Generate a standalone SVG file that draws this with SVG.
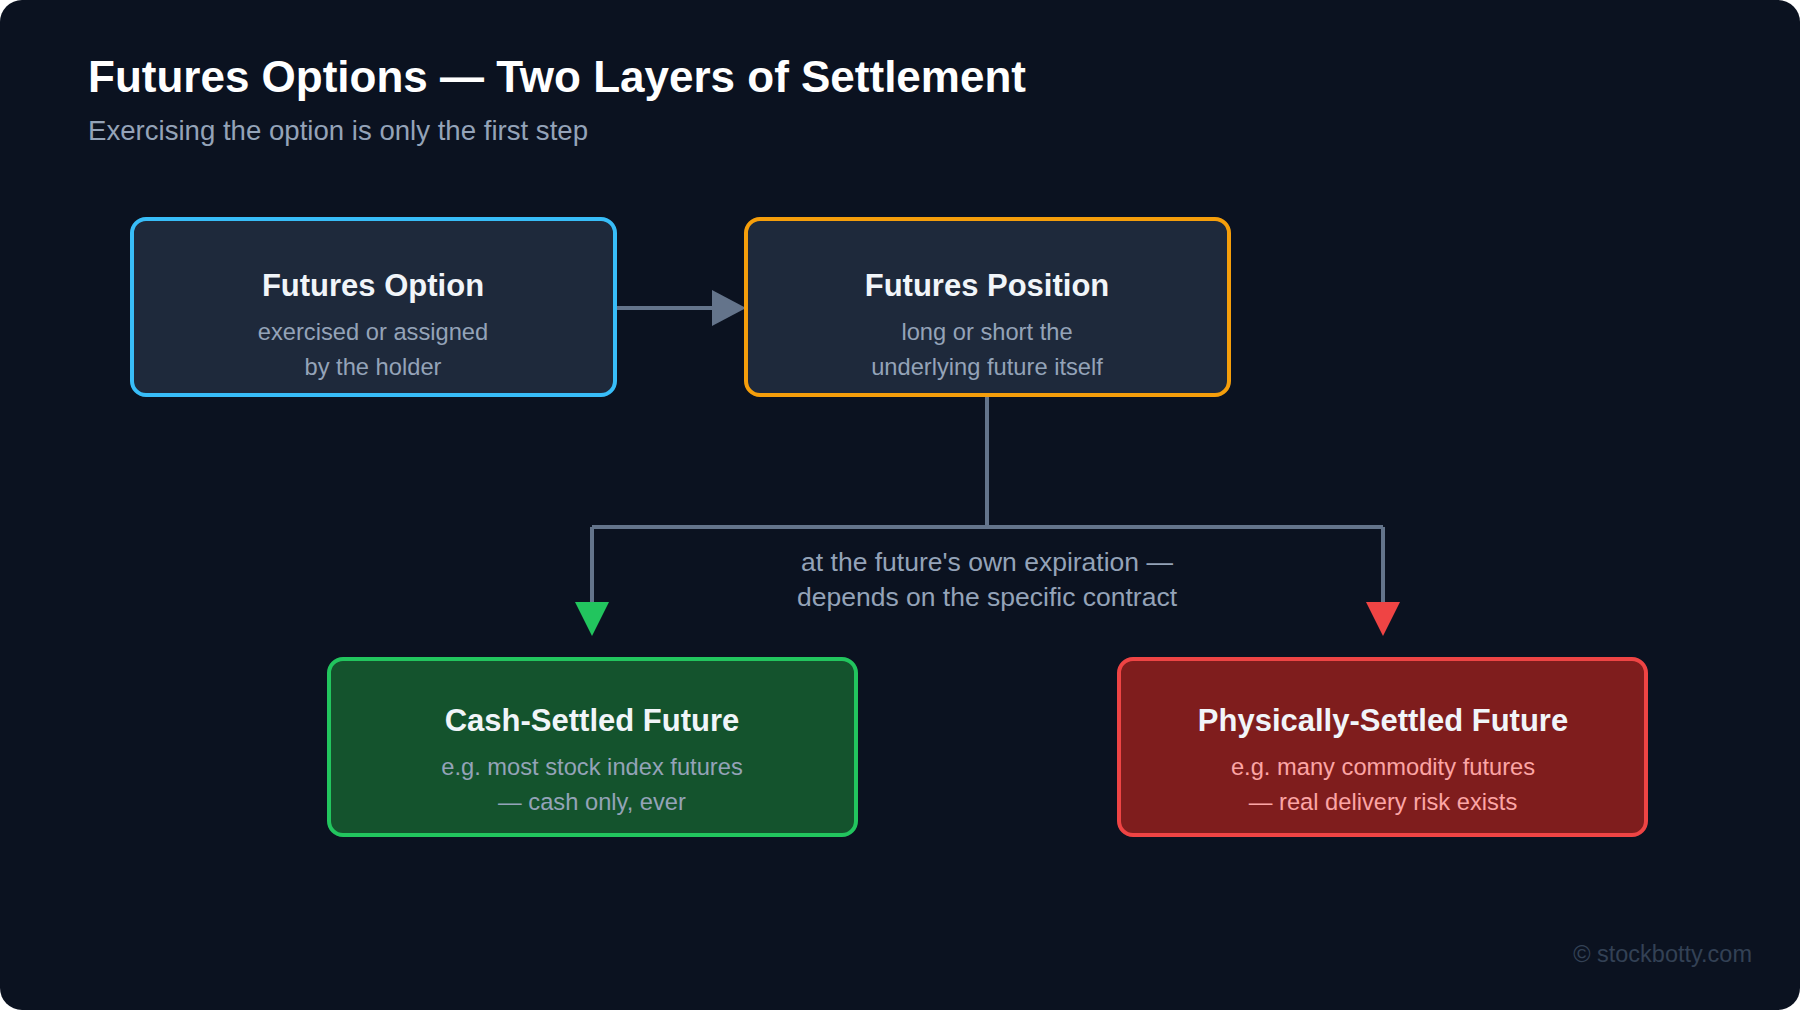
<svg xmlns="http://www.w3.org/2000/svg" width="1800" height="1010" viewBox="0 0 1800 1010">
<style>
text{font-family:"Liberation Sans",Arial,sans-serif}
.t{font-size:31px;font-weight:bold;fill:#f1f5f9;text-anchor:middle}
.s{font-size:23.7px;fill:#94a3b8;text-anchor:middle}
.l{font-size:26.5px;fill:#94a3b8;text-anchor:middle}
.box{stroke-width:4}
.c{stroke:#64748b;stroke-width:4;fill:none}
</style>
<rect width="1800" height="1010" rx="22" fill="#0b1220"/>
<text x="88" y="92" font-size="44" font-weight="bold" fill="#ffffff">Futures Options — Two Layers of Settlement</text>
<text x="88" y="140" font-size="27.6" fill="#94a3b8">Exercising the option is only the first step</text>
<g id="connectors">
<line class="c" x1="615" y1="308" x2="712" y2="308"/>
<path d="M712,290L746,308L712,326z" fill="#64748b"/>
<path class="c" d="M987,395V527M592,527H1383M592,527V604M1383,527V604"/>
<path d="M575,602L609,602L592,636z" fill="#22c55e"/>
<path d="M1366,602L1400,602L1383,636z" fill="#ef4444"/>
<text class="l" x="987" y="571">at the future's own expiration —</text>
<text class="l" x="987" y="606">depends on the specific contract</text>
</g>
<g id="option">
<rect class="box" x="132" y="219" width="483" height="176" rx="14" fill="#1e293b" stroke="#38bdf8"/>
<text class="t" x="373" y="296">Futures Option</text>
<text class="s" x="373" y="340">exercised or assigned</text>
<text class="s" x="373" y="375">by the holder</text>
</g>
<g id="position">
<rect class="box" x="746" y="219" width="483" height="176" rx="14" fill="#1e293b" stroke="#f59e0b"/>
<text class="t" x="987" y="296">Futures Position</text>
<text class="s" x="987" y="340">long or short the</text>
<text class="s" x="987" y="375">underlying future itself</text>
</g>
<g id="cash">
<rect class="box" x="329" y="659" width="527" height="176" rx="14" fill="#14532d" stroke="#22c55e"/>
<text class="t" x="592" y="731">Cash-Settled Future</text>
<text class="s" x="592" y="775">e.g. most stock index futures</text>
<text class="s" x="592" y="810">— cash only, ever</text>
</g>
<g id="physical">
<rect class="box" x="1119" y="659" width="527" height="176" rx="14" fill="#7f1d1d" stroke="#ef4444"/>
<text class="t" x="1383" y="731">Physically-Settled Future</text>
<text class="s" x="1383" y="775" style="fill:#fca5a5">e.g. many commodity futures</text>
<text class="s" x="1383" y="810" style="fill:#fca5a5">— real delivery risk exists</text>
</g>
<text x="1752" y="962" font-size="23.5" fill="#334155" text-anchor="end">© stockbotty.com</text>
</svg>
